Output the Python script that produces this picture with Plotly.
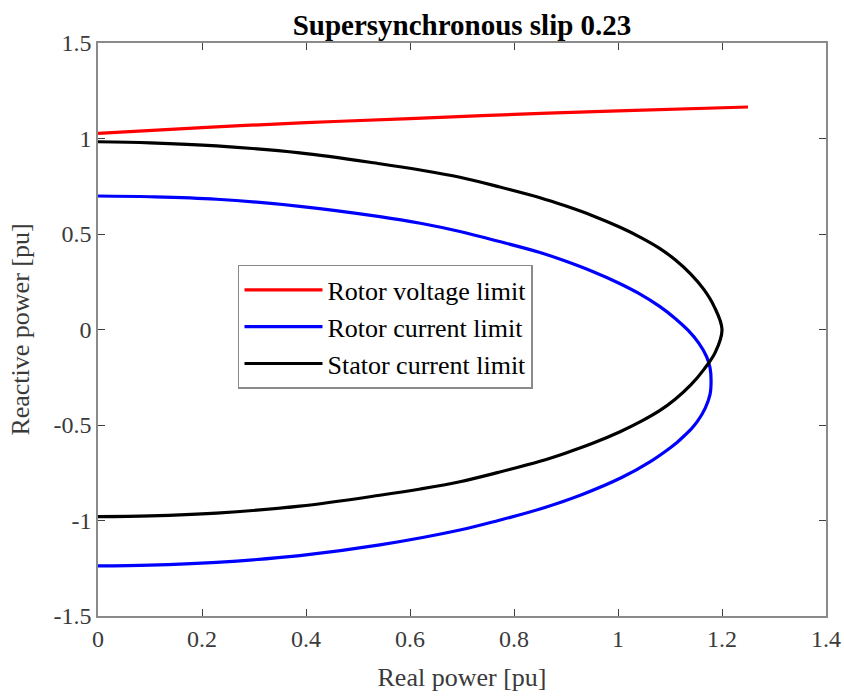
import plotly.graph_objects as go

# Rotor voltage limit
rv_p = [0.0, 0.2, 0.4, 0.6, 0.8, 1.0, 1.25]
rv_q = [1.027, 1.057, 1.083, 1.104, 1.126, 1.145, 1.165]

# Rotor current limit (path from top to bottom)
rc_p = [0.0, 0.1, 0.228, 0.388, 0.542, 0.62, 0.696, 0.77, 0.85, 0.9, 0.95, 1.0, 1.04, 1.08,
        1.11, 1.135, 1.155, 1.17, 1.177, 1.179, 1.177, 1.168, 1.153, 1.141, 1.128, 1.114,
        1.1, 1.063, 1.007, 0.93, 0.85, 0.77, 0.696, 0.542, 0.388, 0.228, 0.1, 0.0]
rc_q = [0.699, 0.695, 0.682, 0.645, 0.591, 0.556, 0.513, 0.462, 0.403, 0.357, 0.305, 0.245,
        0.189, 0.121, 0.058, -0.005, -0.07, -0.14, -0.2, -0.27, -0.34, -0.41, -0.48,
        -0.52, -0.555, -0.59, -0.62, -0.69, -0.775, -0.865, -0.94, -1.0, -1.05, -1.128,
        -1.184, -1.219, -1.234, -1.238]

# Stator current limit (path from top to bottom)
sc_p = [0.0, 0.1, 0.228, 0.388, 0.542, 0.62, 0.696, 0.77, 0.85, 0.9, 0.95, 1.004, 1.045,
        1.08, 1.11, 1.14, 1.165, 1.185, 1.2, 1.187, 1.165, 1.14, 1.11, 1.08, 1.045, 1.004,
        0.95, 0.9, 0.85, 0.77, 0.696, 0.62, 0.542, 0.388, 0.228, 0.1, 0.0]
sc_q = [0.983, 0.977, 0.961, 0.925, 0.868, 0.835, 0.797, 0.748, 0.69, 0.646, 0.597, 0.535,
        0.48, 0.425, 0.365, 0.29, 0.21, 0.12, 0.0, -0.12, -0.21, -0.29, -0.365, -0.425,
        -0.48, -0.535, -0.597, -0.646, -0.69, -0.748, -0.797, -0.835, -0.868, -0.925,
        -0.961, -0.976, -0.98]

x_ticks = [0, 0.2, 0.4, 0.6, 0.8, 1, 1.2, 1.4]
x_labels = ["0", "0.2", "0.4", "0.6", "0.8", "1", "1.2", "1.4"]
y_ticks = [-1.5, -1, -0.5, 0, 0.5, 1, 1.5]
y_labels = ["-1.5", "-1", "-0.5", "0", "0.5", "1", "1.5"]

FONT = "Liberation Serif"
TXT = "#3a3a3a"

fig = go.Figure()
fig.add_trace(go.Scatter(x=rv_p, y=rv_q, mode="lines", name="Rotor voltage limit",
                         line=dict(color="#ff0000", width=3.2, shape="spline")))
fig.add_trace(go.Scatter(x=rc_p, y=rc_q, mode="lines", name="Rotor current limit",
                         line=dict(color="#0000ff", width=3.2, shape="spline")))
fig.add_trace(go.Scatter(x=sc_p, y=sc_q, mode="lines", name="Stator current limit",
                         line=dict(color="#000000", width=3.2, shape="spline")))

axis_common = dict(showgrid=False, zeroline=False, showline=True, mirror="ticks",
                   linecolor="#8a8a8a", linewidth=1.5, ticks="inside", ticklen=7,
                   tickcolor="#404040", tickwidth=1, automargin=False,
                   tickfont=dict(family=FONT, size=24, color=TXT))

fig.update_layout(
    width=844, height=696,
    margin=dict(l=98, r=18, t=43, b=80),
    paper_bgcolor="white", plot_bgcolor="white",
    title=dict(text="<b>Supersynchronous slip 0.23</b>", x=0.5, xref="paper", xanchor="center",
               y=1, yref="paper", yanchor="bottom", pad=dict(b=8),
               font=dict(family=FONT, size=29, color="#000000")),
    xaxis=dict(range=[0, 1.4], tickvals=x_ticks, ticktext=x_labels,
               title=dict(text="Real power [pu]", font=dict(family=FONT, size=26, color=TXT),
                          standoff=17),
               **axis_common),
    yaxis=dict(range=[-1.5, 1.5], tickvals=y_ticks, ticktext=y_labels,
               title=dict(text="Reactive power [pu]", font=dict(family=FONT, size=26, color=TXT),
                          standoff=16),
               **axis_common),
    legend=dict(x=0.1923, y=0.6126, xanchor="left", yanchor="top",
                bgcolor="white", bordercolor="#8a8a8a", borderwidth=1.5,
                font=dict(family=FONT, size=26, color="#000000"),
                tracegroupgap=0, itemwidth=78),
    showlegend=True,
)

fig.write_html("out.html",
               config={"displayModeBar": False},
               post_script="document.body.style.margin='0px';"
                           "document.body.style.overflow='hidden';")
